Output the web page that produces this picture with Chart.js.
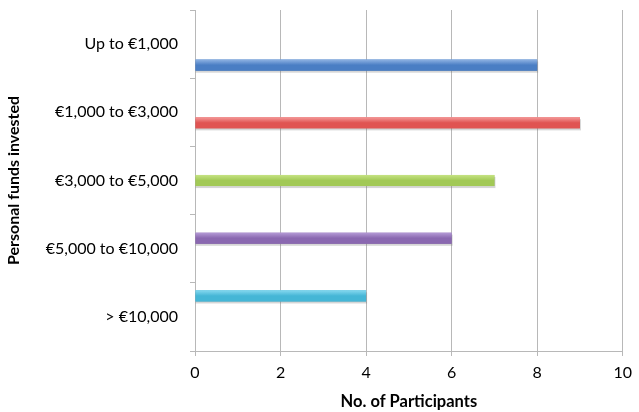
<!DOCTYPE html>
<html>
<head>
<meta charset="utf-8">
<script src="https://cdn.jsdelivr.net/npm/chart.js@4/dist/chart.umd.min.js"></script>
<style>
  html, body { margin: 0; padding: 0; background: #fff; }
  #wrap { width: 639px; height: 412px; position: relative; }
</style>
</head>
<body>
<div id="wrap"><canvas id="chart"></canvas></div>
<script>
// categorias e valores
const categories = ['Up to €1,000', '€1,000 to €3,000', '€3,000 to €5,000', '€5,000 to €10,000', '> €10,000'];
const participants = [8, 9, 7, 6, 4];
const xTicks = [0, 2, 4, 6, 8, 10];

// cores de cada série (base e tom claro do topo)
const barColors = ['#4a7ec4', '#e05452', '#a2c956', '#8a68b0', '#45b6d6'];
const barLights = ['#8fb3e3', '#f49a9a', '#c6e383', '#b59bd6', '#86d8ef'];

const gridGrey = '#b8b8b8';
const fontFam = 'Lato, "Open Sans", sans-serif';

// uma série por categoria, como no Excel; a última fica no topo do grupo
const datasets = [];
for (let s = categories.length - 1; s >= 0; s--) {
    const data = categories.map((c, i) => (i === s ? participants[i] : null));
    datasets.push({
        label: categories[s],
        data: data,
        backgroundColor: barColors[s],
        borderWidth: 0,
        categoryPercentage: 0.77,
        barPercentage: 1.06,
        colorIdx: s
    });
}

// plugin para desenhar o brilho e a sombra das barras
const gradientBars = {
    id: 'gradientBars',
    afterDatasetsDraw(chart) {
        const ctx = chart.ctx;
        chart.data.datasets.forEach((ds, di) => {
            const meta = chart.getDatasetMeta(di);
            meta.data.forEach((el, i) => {
                if (ds.data[i] === null) return;
                const p = el.getProps(['x', 'y', 'base', 'height'], true);
                const top = p.y - p.height / 2;
                const h = p.height;
                const left = p.base;
                const w = p.x - p.base;
                ctx.save();
                // sombra
                ctx.fillStyle = 'rgba(120,120,120,0.3)';
                ctx.fillRect(left, top + 2, w + 1, h);
                const g = ctx.createLinearGradient(0, top, 0, top + h);
                g.addColorStop(0, barLights[ds.colorIdx]);
                g.addColorStop(0.5, barColors[ds.colorIdx]);
                g.addColorStop(1, barColors[ds.colorIdx]);
                ctx.fillStyle = g;
                ctx.fillRect(left, top, w, h);
                ctx.restore();
            });
        });
    }
};

const config = {
    type: 'bar',
    data: { labels: categories, datasets: datasets },
    options: {
        indexAxis: 'y',
        responsive: true,
        maintainAspectRatio: false,
        animation: false,
        layout: { padding: { top: 10, right: 16, left: 0, bottom: 0 } },
        plugins: {
            legend: { display: false },
            tooltip: { enabled: false }
        },
        scales: {
            x: {
                min: 0,
                max: 10,
                afterBuildTicks(axis) {
                    axis.ticks = xTicks.map(v => ({ value: v }));
                },
                afterFit(axis) { axis.height = 61; },
                grid: {
                    color: gridGrey,
                    lineWidth: 1,
                    tickLength: 5,
                    drawTicks: true
                },
                border: { color: gridGrey, width: 1 },
                ticks: {
                    color: '#000',
                    font: { family: fontFam, size: 16 },
                    padding: 7
                },
                title: {
                    display: true,
                    text: 'No. of Participants',
                    color: '#000',
                    font: { family: fontFam, size: 16.5, weight: 'bold' },
                    padding: { top: 2, bottom: 0 }
                }
            },
            y: {
                afterFit(axis) {
                    axis.width = 195;
                    axis.paddingTop = 0;
                    axis.paddingBottom = 0;
                },
                grid: {
                    offset: true,
                    drawOnChartArea: false,
                    color: gridGrey,
                    tickLength: 5
                },
                border: { color: gridGrey, width: 1 },
                ticks: {
                    color: '#000',
                    font: { family: fontFam, size: 16 },
                    padding: 12
                },
                title: {
                    display: true,
                    text: 'Personal funds invested',
                    color: '#000',
                    font: { family: fontFam, size: 16, weight: 'bold' },
                    padding: { top: 4, bottom: 0 }
                }
            }
        }
    },
    plugins: [gradientBars]
};

new Chart(document.getElementById('chart'), config);
</script>
</body>
</html>
